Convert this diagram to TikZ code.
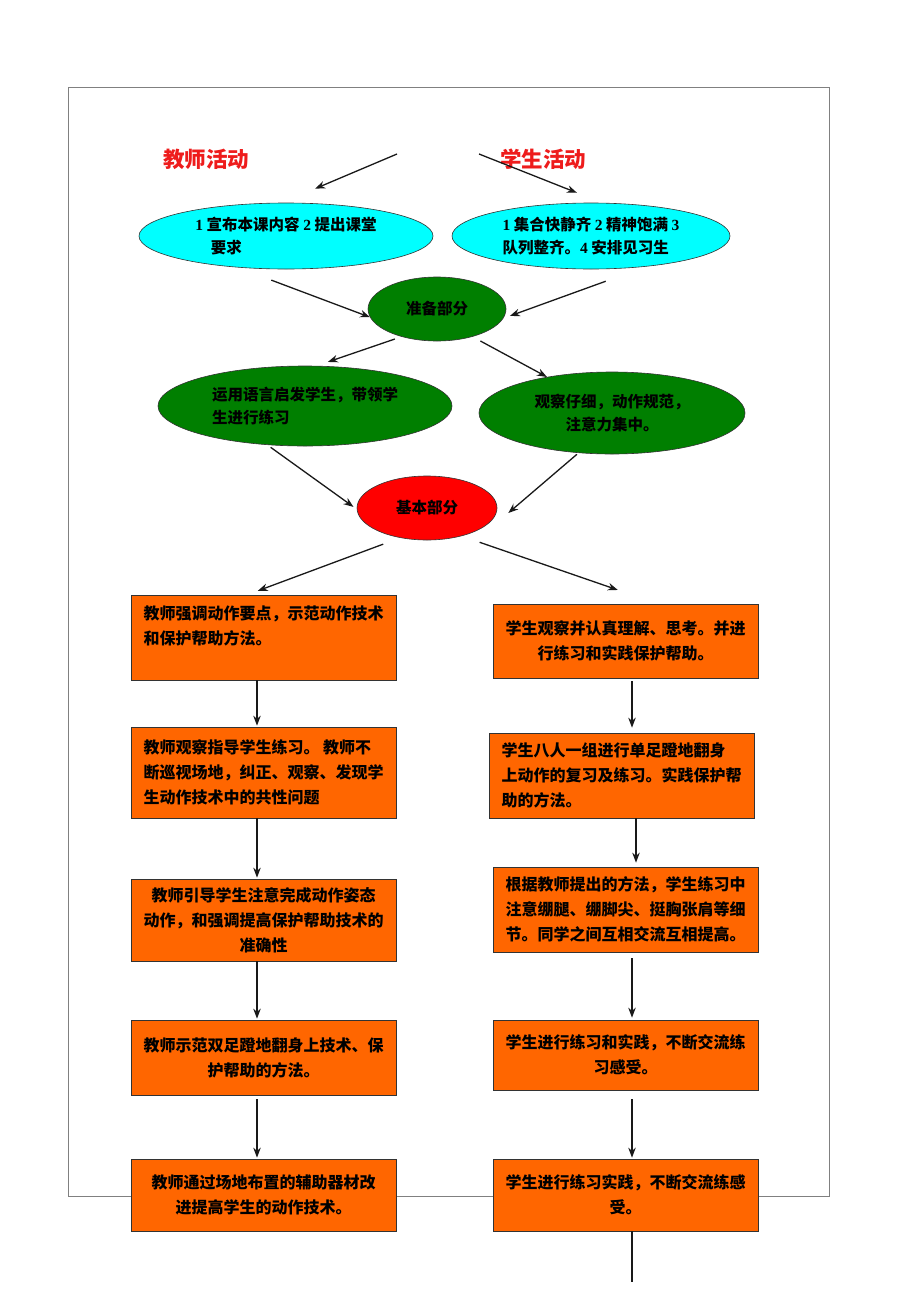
\documentclass[tikz,border=0pt]{standalone}
\usepackage{fontspec}
\setmainfont{Noto Sans CJK SC}
\newfontfamily\dg{Liberation Serif}
\usetikzlibrary{arrows.meta,shapes.geometric}
\definecolor{cyanfill}{HTML}{00FFFF}
\definecolor{greenfill}{HTML}{007F00}
\definecolor{redfill}{HTML}{FF0000}
\definecolor{orangebox}{HTML}{FF6600}
\definecolor{titlered}{HTML}{EE1C1C}
\begin{document}
\begin{tikzpicture}[x=1pt,y=-1pt,
  frame/.style={draw=black!50, line width=0.8pt},
  arr/.style={-{Stealth[length=10pt,width=7.5pt]}, line width=1.3pt, draw=black!90},
  plainline/.style={line width=1.3pt, draw=black!90},
  ell/.style={ellipse, draw=black!80, line width=0.6pt, inner sep=0pt,
    font=\bfseries\fontsize{15.5}{23}\selectfont},
  box/.style={rectangle, draw=black!80, line width=0.7pt, fill=orangebox, inner sep=0pt,
    minimum width=265pt, font=\bfseries\fontsize{16}{25}\selectfont},
  title/.style={text=titlered, font=\bfseries\fontsize{21.5}{21.5}\selectfont}]
\useasboundingbox (0,0) rectangle (920,1301);
\fill[white] (0,0) rectangle (920,1301);
% frame
\draw[frame] (68,87) rectangle (829,1196);
% titles
\node[title] (tT) at (206,159) {教师活动};
\node[title] (tS) at (543,159) {学生活动};
\coordinate (a1) at (397,154);
\coordinate (b1) at (479,154);
\coordinate (rend) at (632,1282);
% ellipses
\node[ell, fill=cyanfill, minimum width=294pt, minimum height=66pt, align=left] (E1) at (286,236)
  {{\dg 1} 宣布本课内容 {\dg 2} 提出课堂\\\hspace*{1em}要求};
\node[ell, fill=cyanfill, minimum width=278pt, minimum height=66pt, align=left] (E2) at (591,236)
  {{\dg 1} 集合快静齐 {\dg 2} 精神饱满 {\dg 3}\\队列整齐。{\dg 4} 安排见习生};
\node[ell, fill=greenfill, minimum width=138pt, minimum height=64pt] (P) at (437,309) {准备部分};
\node[ell, fill=greenfill, minimum width=294pt, minimum height=80pt, align=left] (G1) at (305,406)
  {运用语言启发学生，带领学\\生进行练习};
\node[ell, fill=greenfill, minimum width=266pt, minimum height=82pt, align=center] (G2) at (612,413)
  {观察仔细，动作规范，\\注意力集中。};
\node[ell, fill=redfill, minimum width=140pt, minimum height=64pt] (B) at (427,508) {基本部分};
% left column
\node[box, minimum height=85pt, align=left] (L1) at (263.5,637.5)
  {教师强调动作要点，示范动作技术\\和保护帮助方法。\\\mbox{}};
\node[box, minimum height=91pt, align=left] (L2) at (263.5,772.5)
  {教师观察指导学生练习。 教师不\\断巡视场地，纠正、观察、发现学\\生动作技术中的共性问题};
\node[box, minimum height=82pt, align=center] (L3) at (263.5,920)
  {教师引导学生注意完成动作姿态\\动作，和强调提高保护帮助技术的\\准确性};
\node[box, minimum height=75pt, align=center] (L4) at (263.5,1057.5)
  {教师示范双足蹬地翻身上技术、保\\护帮助的方法。};
\node[box, minimum height=72pt, align=center] (L5) at (263.5,1195)
  {教师通过场地布置的辅助器材改\\进提高学生的动作技术。};
% right column
\node[box, minimum height=74pt, align=center] (R1) at (625.5,641)
  {学生观察并认真理解、思考。并进\\行练习和实践保护帮助。};
\node[box, minimum height=85pt, align=left] (R2) at (621.5,775.5)
  {学生八人一组进行单足蹬地翻身\\上动作的复习及练习。实践保护帮\\助的方法。};
\node[box, minimum height=85pt, align=left] (R3) at (625.5,909.5)
  {根据教师提出的方法，学生练习中\\注意绷腿、绷脚尖、挺胸张肩等细\\节。同学之间互相交流互相提高。};
\node[box, minimum height=70pt, align=center] (R4) at (625.5,1055)
  {学生进行练习和实践，不断交流练\\习感受。};
\node[box, minimum height=72pt, align=center] (R5) at (625.5,1195)
  {学生进行练习实践，不断交流练感\\受。};
% top arrows
\draw[arr, shorten >=36pt] (a1) -- ([xshift=-4pt]E1.north);
\draw[arr, shorten >=27pt] (b1) -- ([xshift=11pt]E2.north);
\draw[arr, shorten <=36pt] (E1.213) -- (P.187);
\draw[arr, shorten <=43pt, shorten >=7pt] (E2.331) -- (P.352);
\draw[arr, shorten <=7pt, shorten >=12pt] (P.218) -- (G1.74);
\draw[arr, shorten <=9pt] (P.322) -- (G2.151);
\draw[arr, shorten <=4pt, shorten >=4pt] (G1.226) -- (B.181);
\draw[arr, shorten <=2pt] (G2.230) -- ([xshift=11pt,yshift=-5pt]B.east);
\draw[arr, shorten <=18pt, shorten >=11pt] (B.228) -- ([xshift=-16pt]L1.north);
\draw[arr, shorten <=19pt, shorten >=42pt] (B.321) -- ([xshift=32pt]R1.north);
% vertical arrows, left
\draw[arr, shorten >=1pt] ([xshift=-6.5pt]L1.south) -- ([xshift=-6.5pt]L2.north);
\draw[arr, shorten >=1pt] ([xshift=-6.5pt]L2.south) -- ([xshift=-6.5pt]L3.north);
\draw[arr, shorten >=1pt] ([xshift=-6.5pt]L3.south) -- ([xshift=-6.5pt]L4.north);
\draw[arr, shorten <=4pt, shorten >=1pt] ([xshift=-6.5pt]L4.south) -- ([xshift=-6.5pt]L5.north);
% vertical arrows, right
\draw[arr, shorten <=3pt, shorten >=5pt] ([xshift=6.5pt]R1.south) -- ([xshift=10.5pt]R2.north);
\draw[arr, shorten >=4pt] ([xshift=14.5pt]R2.south) -- ([xshift=10.5pt]R3.north);
\draw[arr, shorten <=6pt, shorten >=2pt] ([xshift=6.5pt]R3.south) -- ([xshift=6.5pt]R4.north);
\draw[arr, shorten <=9pt, shorten >=1pt] ([xshift=6.5pt]R4.south) -- ([xshift=6.5pt]R5.north);
\draw[plainline] ([xshift=6.5pt]R5.south) -- (rend);
\end{tikzpicture}
\end{document}
